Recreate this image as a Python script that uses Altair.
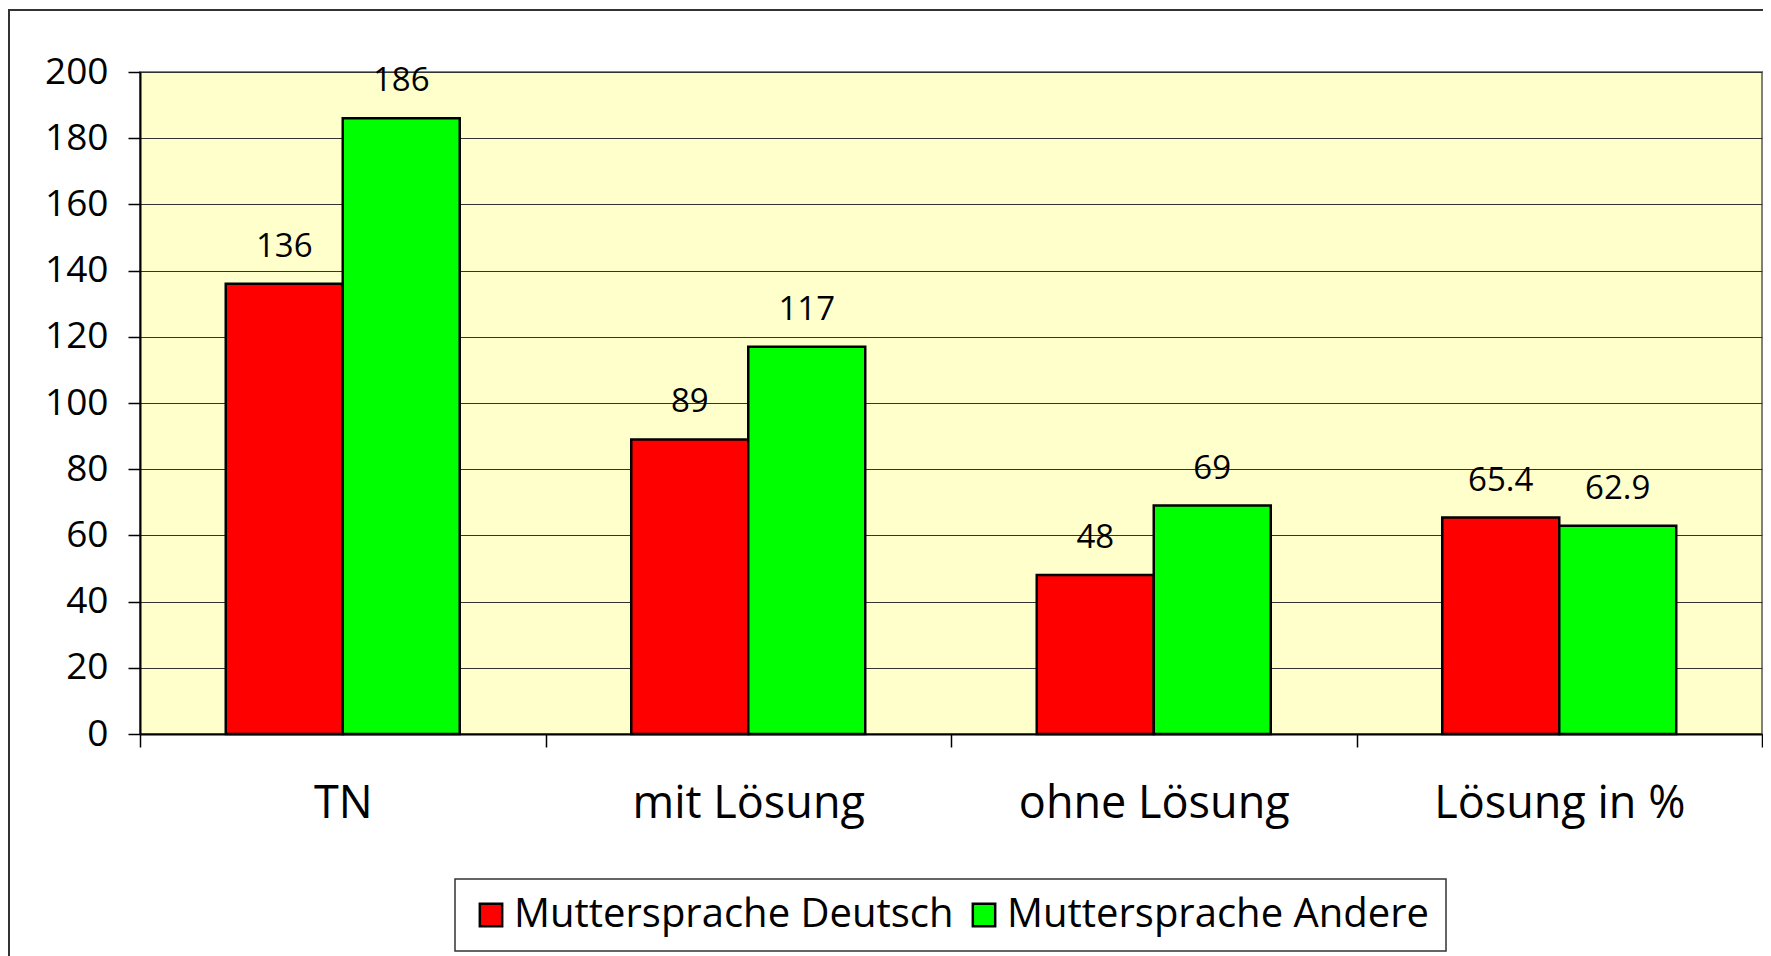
import altair as alt
import pandas as pd

categories = ["TN", "mit Lösung", "ohne Lösung", "Lösung in %"]
series_names = ["Muttersprache Deutsch", "Muttersprache Andere"]
deutsch = [136, 89, 48, 65.4]
andere = [186, 117, 69, 62.9]
y_ticks = [0, 20, 40, 60, 80, 100, 120, 140, 160, 180, 200]


def fmt(v):
    return str(int(v)) if float(v).is_integer() else f"{v:.1f}"


rows = []
for c, d, a in zip(categories, deutsch, andere):
    rows.append({"cat": c, "series": series_names[0], "value": d, "label": fmt(d)})
    rows.append({"cat": c, "series": series_names[1], "value": a, "label": fmt(a)})
df = pd.DataFrame(rows)

FONT = "Open Sans"

x_enc = alt.X(
    "cat:N",
    sort=categories,
    scale=alt.Scale(paddingInner=0, paddingOuter=0),
    axis=alt.Axis(
        title=None,
        labelAngle=0,
        labelFont=FONT,
        labelFontSize=45,
        labelColor="#000000",
        labelBaseline="alphabetic",
        labelPadding=70,
        labelLimit=0,
        tickBand="extent",
        tickSize=13,
        tickColor="#000000",
        tickWidth=1.5,
        domainColor="#000000",
        domainWidth=2,
        grid=False,
    ),
)
xoff_enc = alt.XOffset(
    "series:N",
    sort=series_names,
    scale=alt.Scale(paddingInner=0, paddingOuter=0.733),
)
y_enc = alt.Y(
    "value:Q",
    scale=alt.Scale(domain=[0, 200], nice=False),
    axis=alt.Axis(
        title=None,
        values=y_ticks,
        labelFont=FONT,
        labelFontSize=37,
        labelColor="#000000",
        labelPadding=20,
        tickSize=12,
        tickColor="#000000",
        tickWidth=1.5,
        domainColor="#000000",
        domainWidth=2,
        grid=True,
        gridColor="#333333",
        gridWidth=1,
    ),
)
color_enc = alt.Color(
    "series:N",
    sort=series_names,
    scale=alt.Scale(domain=series_names, range=["#FF0000", "#00FF00"]),
    legend=alt.Legend(
        title=None,
        orient="none",
        legendX=315,
        legendY=807,
        direction="horizontal",
        columns=2,
        columnPadding=10,
        symbolType="square",
        symbolSize=500,
        symbolStrokeColor="#000000",
        symbolStrokeWidth=2.5,
        symbolOpacity=1,
        labelFont=FONT,
        labelFontSize=40,
        labelColor="#000000",
        labelOffset=3,
        labelLimit=0,
        padding=16,
        strokeColor="#333333",
        fillColor="#FFFFFF",
    ),
)

bars = alt.Chart(df).mark_bar(stroke="#000000", strokeWidth=2.5).encode(
    x=x_enc, xOffset=xoff_enc, y=y_enc, color=color_enc
)

labels = alt.Chart(df).mark_text(
    font=FONT, fontSize=33, color="#000000", align="center",
    baseline="alphabetic", dy=-27
).encode(
    x=alt.X("cat:N", sort=categories),
    xOffset=alt.XOffset("series:N", sort=series_names),
    y=alt.Y("value:Q"),
    text="label:N",
)

frame = alt.Chart(alt.Data(values=[{"f": 1}])).mark_rect(
    fillOpacity=0, stroke="#333333", strokeWidth=2
).encode(
    x=alt.value(-131), x2=alt.value(1700), y=alt.value(-62), y2=alt.value(1000)
)

chart = alt.layer(frame, bars, labels).properties(
    width=1622,
    height=662,
    autosize=alt.AutoSizeParams(type="none"),
    padding={"left": 132, "top": 64, "right": 1, "bottom": 224},
    background="#FFFFFF",
).configure_view(
    fill="#FFFFCC", stroke="#808080", strokeWidth=2
).configure_legend(
    strokeWidth=1.5
)

chart.save("out.html", embed_options={"renderer": "svg", "actions": False})
